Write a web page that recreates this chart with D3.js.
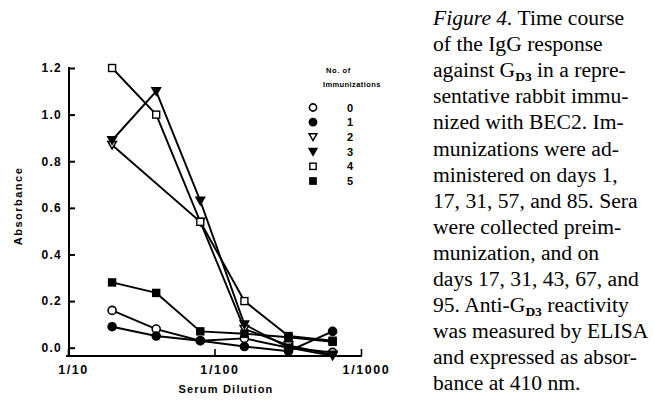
<!DOCTYPE html>
<html>
<head>
<meta charset="utf-8">
<script src="https://cdn.jsdelivr.net/npm/d3@7"></script>
<style>
  body { margin: 0; background: #fff; }
  svg { display: block; }
</style>
</head>
<body>
<svg id="canvas"></svg>
<script>
// serum dilution denominators (1/20 ... 1/640)
let dilutions = [20, 40, 80, 160, 320, 640]

// absorbance per number of immunizations (null = no point read)
let imm0 = [0.16, 0.08, 0.03, 0.04, 0.00, -0.02]
let imm1 = [0.09, 0.05, 0.03, 0.005, -0.015, 0.07]
let imm2 = [0.87, null, 0.54, 0.08, 0.01, -0.03]
let imm3 = [0.89, 1.10, 0.63, 0.10, 0.00, -0.035]
let imm4 = [1.20, 1.00, 0.54, 0.20, 0.05, 0.03]
let imm5 = [0.28, 0.235, 0.07, 0.06, 0.045, 0.025]

let seriesLabels = ["0", "1", "2", "3", "4", "5"]
let seriesValues = [imm0, imm1, imm2, imm3, imm4, imm5]
let seriesShapes = ["circle", "circle", "triangle", "triangle", "square", "square"]
let seriesFilled = [false, true, false, true, false, true]

let xTicks = [10, 100, 1000]
let xTickLabels = ["1/10", "1/100", "1/1000"]
let yTicks = [0, 0.2, 0.4, 0.6, 0.8, 1.0, 1.2]

// caption: each line is a list of [text, style] pieces (i = italic, s = subscript)
let captionLines = [
  [["Figure 4.", "i"], [" Time course", ""]],
  [["of the IgG response", ""]],
  [["against G", ""], ["D3", "s"], [" in a repre-", ""]],
  [["sentative rabbit immu-", ""]],
  [["nized with BEC2. Im-", ""]],
  [["munizations were ad-", ""]],
  [["ministered on days 1,", ""]],
  [["17, 31, 57, and 85. Sera", ""]],
  [["were collected preim-", ""]],
  [["munization, and on", ""]],
  [["days 17, 31, 43, 67, and", ""]],
  [["95. Anti-G", ""], ["D3", "s"], [" reactivity", ""]],
  [["was measured by ELISA", ""]],
  [["and expressed as absor-", ""]],
  [["bance at 410 nm.", ""]]
]

let width = 655
let height = 400

let canvas = d3.select("#canvas")
  .attr("width", width)
  .attr("height", height)

canvas.append("rect")
  .attr("width", width)
  .attr("height", height)
  .attr("fill", "#fff")

let xScale = d3.scaleLog().domain([10, 1000]).range([68, 361])
let yScale = d3.scaleLinear().domain([0, 1.2]).range([347.7, 68])
let xAxisY = 356

let sansBold = "'Liberation Sans', Arial, sans-serif"

// y axis
let yAxis = d3.axisLeft(yScale)
  .tickValues(yTicks)
  .tickFormat(d3.format(".1f"))
  .tickSizeInner(-6)
  .tickSizeOuter(0)
  .tickPadding(7)

let yG = canvas.append("g")
  .attr("transform", "translate(69,0)")
  .call(yAxis)
yG.select(".domain").remove()
yG.selectAll(".tick line").attr("stroke", "#000").attr("stroke-width", 2)
yG.selectAll(".tick text")
  .attr("font-family", sansBold)
  .attr("font-weight", "bold")
  .attr("font-size", 12)
  .attr("letter-spacing", 1.3)
  .attr("fill", "#000")

canvas.append("line")
  .attr("x1", 69).attr("x2", 69)
  .attr("y1", yScale(1.2) - 1).attr("y2", xAxisY)
  .attr("stroke", "#000").attr("stroke-width", 2)

// x axis
let xAxis = d3.axisBottom(xScale)
  .tickValues(xTicks)
  .tickFormat((d, i) => xTickLabels[i])
  .tickSizeInner(-7)
  .tickSizeOuter(0)
  .tickPadding(9)

let xG = canvas.append("g")
  .attr("transform", "translate(0," + xAxisY + ")")
  .call(xAxis)
xG.select(".domain").remove()
xG.selectAll(".tick line").attr("stroke", "#000").attr("stroke-width", 1.6)
xG.selectAll(".tick text")
  .attr("dx", 5)
  .attr("font-family", sansBold)
  .attr("font-weight", "bold")
  .attr("font-size", 12.5)
  .attr("letter-spacing", 1.6)
  .attr("fill", "#000")

canvas.append("line")
  .attr("x1", 66).attr("x2", xScale(1000) + 1)
  .attr("y1", xAxisY).attr("y2", xAxisY)
  .attr("stroke", "#000").attr("stroke-width", 2)

// axis titles
canvas.append("text")
  .attr("transform", "translate(22,206) rotate(-90)")
  .attr("text-anchor", "middle")
  .attr("font-family", sansBold)
  .attr("font-weight", "bold")
  .attr("font-size", 11)
  .attr("letter-spacing", 1.5)
  .text("Absorbance")

canvas.append("text")
  .attr("x", 226)
  .attr("y", 393)
  .attr("text-anchor", "middle")
  .attr("font-family", sansBold)
  .attr("font-weight", "bold")
  .attr("font-size", 11)
  .attr("letter-spacing", 1.2)
  .text("Serum Dilution")

// marker shapes
let drawMarker = (g, shape, filled, x, y, s) => {
  let fill = filled ? "#000" : "#fff"
  if (shape == "circle") {
    g.append("circle")
      .attr("cx", x).attr("cy", y).attr("r", 4 * s)
      .attr("fill", fill).attr("stroke", "#000").attr("stroke-width", 1.6)
  } else if (shape == "square") {
    let h = 3.5 * s
    g.append("rect")
      .attr("x", x - h).attr("y", y - h)
      .attr("width", 2 * h).attr("height", 2 * h)
      .attr("fill", fill).attr("stroke", "#000").attr("stroke-width", 1.4)
  } else {
    let w = 4.3 * s
    g.append("path")
      .attr("d", "M" + (x - w) + "," + (y - 3.5 * s) + "L" + (x + w) + "," + (y - 3.5 * s) + "L" + x + "," + (y + 4 * s) + "Z")
      .attr("fill", fill).attr("stroke", "#000").attr("stroke-width", 1.5)
      .attr("stroke-linejoin", "miter")
  }
}

let line = d3.line()
  .x(d => xScale(d.dil))
  .y(d => yScale(d.val))

let seriesPoints = seriesValues.map(vals =>
  dilutions.map((dil, i) => ({ dil: dil, val: vals[i] })).filter(d => d.val != null)
)

let linesG = canvas.append("g")
seriesPoints.forEach(points => {
  linesG.append("path")
    .datum(points)
    .attr("d", line)
    .attr("fill", "none")
    .attr("stroke", "#000")
    .attr("stroke-width", 1.9)
})

let markersG = canvas.append("g")
seriesPoints.forEach((points, k) => {
  points.forEach(d => {
    drawMarker(markersG, seriesShapes[k], seriesFilled[k], xScale(d.dil), yScale(d.val), 1)
  })
})

// legend
let legend = canvas.append("g")
legend.append("text")
  .attr("x", 326).attr("y", 73)
  .attr("font-family", sansBold).attr("font-weight", "bold")
  .attr("font-size", 7.5).attr("letter-spacing", 0.6)
  .text("No. of")
legend.append("text")
  .attr("x", 323).attr("y", 87)
  .attr("font-family", sansBold).attr("font-weight", "bold")
  .attr("font-size", 7.5).attr("letter-spacing", 0.4)
  .text("Immunizations")

seriesLabels.forEach((lab, k) => {
  let ry = 107.5 + k * 14.7
  drawMarker(legend, seriesShapes[k], seriesFilled[k], 313, ry, 0.9)
  legend.append("text")
    .attr("x", 350).attr("y", ry + 4)
    .attr("text-anchor", "middle")
    .attr("font-family", sansBold).attr("font-weight", "bold")
    .attr("font-size", 11)
    .text(lab)
})

// caption
let caption = canvas.append("text")
  .attr("font-family", "'Liberation Serif', 'Times New Roman', serif")
  .attr("font-size", 21.6)
  .attr("fill", "#000")

captionLines.forEach((pieces, i) => {
  let ty = 25 + i * 26.1
  pieces.forEach((p, j) => {
    let t = caption.append("tspan").text(p[0])
    if (j == 0) t.attr("x", 433).attr("y", ty)
    if (p[1] == "i") t.attr("font-style", "italic")
    if (p[1] == "s") {
      t.attr("font-size", 13.5).attr("font-weight", "bold").attr("dy", 4)
    } else if (j > 0 && pieces[j - 1][1] == "s") {
      t.attr("dy", -4)
    }
  })
})
</script>
</body>
</html>
